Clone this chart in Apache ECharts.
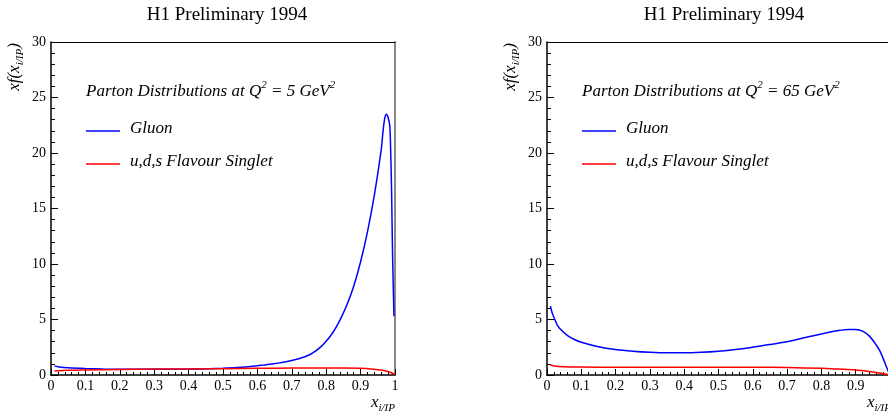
<!DOCTYPE html>
<html>
<head>
<meta charset="utf-8">
<script src="https://cdn.jsdelivr.net/npm/echarts@6/dist/echarts.min.js"></script>
<style>html,body{margin:0;padding:0;background:#fff}#c{width:888px;height:418px}</style>
</head>
<body>
<div id="c"></div>
<script>
// ---- data ----
var xTicks = [0, 0.1, 0.2, 0.3, 0.4, 0.5, 0.6, 0.7, 0.8, 0.9, 1];
var yTicks = [0, 5, 10, 15, 20, 25, 30];

var gluon5X = [0.01,0.02,0.05,0.1,0.15,0.2,0.3,0.4,0.46,0.5,0.54,0.58,0.6,0.62,0.64,0.66,0.68,0.7,0.72,0.74,0.76,0.78,0.8,0.82,0.84,0.86,0.88,0.9,0.92,0.94,0.96,0.965,0.97,0.975,0.98,0.985,0.988,0.99,0.993,0.997];
var gluon5Y = [0.82,0.75,0.65,0.58,0.54,0.52,0.51,0.53,0.57,0.61,0.67,0.77,0.84,0.91,0.99,1.07,1.17,1.3,1.46,1.67,1.97,2.42,3.05,3.85,4.95,6.3,8.0,10.2,12.9,16.2,20.3,21.9,23.1,23.5,23.2,22.4,19.5,16.7,10.7,5.3];

var quark5X = [0.01,0.05,0.1,0.2,0.3,0.4,0.5,0.6,0.7,0.8,0.85,0.9,0.93,0.95,0.97,0.99,1.0];
var quark5Y = [0.36,0.42,0.45,0.5,0.53,0.55,0.57,0.6,0.62,0.63,0.63,0.6,0.55,0.48,0.38,0.2,0.0];

var gluon65X = [0.01,0.015,0.02,0.03,0.04,0.06,0.08,0.1,0.15,0.2,0.25,0.3,0.35,0.4,0.45,0.5,0.55,0.6,0.65,0.7,0.75,0.8,0.85,0.88,0.9,0.92,0.94,0.96,0.97,0.98,0.99,1.0];
var gluon65Y = [6.2,5.6,5.2,4.5,4.1,3.55,3.2,2.95,2.55,2.3,2.15,2.05,2.0,2.0,2.05,2.15,2.3,2.5,2.75,3.0,3.35,3.7,4.0,4.1,4.1,3.95,3.5,2.7,2.2,1.5,0.7,0.0];

var quark65X = [0.01,0.02,0.05,0.1,0.2,0.3,0.4,0.5,0.6,0.7,0.8,0.85,0.9,0.95,0.98,1.0];
var quark65Y = [0.9,0.82,0.75,0.72,0.7,0.7,0.7,0.7,0.7,0.67,0.6,0.53,0.45,0.28,0.12,0.0];

var titleText = 'H1 Preliminary 1994';
var q2Values = ['5', '65'];
var seriesNames = ['Gluon', 'u,d,s Flavour Singlet'];

function zip(xs, ys) { return xs.map(function (x, i) { return [x, ys[i]]; }); }

var FONT = 'Liberation Serif';
var grids = [
  { left: 51, top: 42, right: 493, bottom: 43, outerBoundsMode: 'none', containLabel: false },
  { left: 547, top: 42, right: -2, bottom: 43, outerBoundsMode: 'none', containLabel: false }
];

var xAxes = [], yAxes = [], series = [], graphics = [];
grids.forEach(function (g, i) {
  xAxes.push({
    type: 'value', gridIndex: i, min: 0, max: 1, interval: 0.1,
    axisLine: { show: true, onZero: false, lineStyle: { color: '#000', width: 1.5 } },
    axisTick: { inside: true, length: 6, lineStyle: { color: '#000' } },
    minorTick: { show: true, splitNumber: 5, length: 3, lineStyle: { color: '#000' } },
    splitLine: { show: false },
    axisLabel: { fontFamily: FONT, fontSize: 14, color: '#000', margin: 4, hideOverlap: false,
      formatter: function (v) { return String(Math.round(v * 10) / 10); } }
  });
  xAxes.push({
    type: 'value', gridIndex: i, min: 0, max: 1, position: 'top',
    axisLine: { show: true, onZero: false, lineStyle: { color: '#000', width: 1.2 } },
    axisTick: { show: false }, axisLabel: { show: false }, splitLine: { show: false }
  });
  yAxes.push({
    type: 'value', gridIndex: i, min: 0, max: 30, interval: 5,
    axisLine: { show: true, onZero: false, lineStyle: { color: '#000', width: 1.5 } },
    axisTick: { inside: true, length: 7, lineStyle: { color: '#000' } },
    minorTick: { show: true, splitNumber: 5, length: 4, lineStyle: { color: '#000' } },
    splitLine: { show: false },
    axisLabel: { fontFamily: FONT, fontSize: 14, color: '#000', margin: 5 }
  });
  yAxes.push({
    type: 'value', gridIndex: i, min: 0, max: 30, position: 'right',
    axisLine: { show: true, onZero: false, lineStyle: { color: '#888', width: 2 } },
    axisTick: { show: false }, axisLabel: { show: false }, splitLine: { show: false }
  });
});

var sets = [[gluon5X, gluon5Y, quark5X, quark5Y], [gluon65X, gluon65Y, quark65X, quark65Y]];
sets.forEach(function (s, i) {
  series.push({ name: seriesNames[0], type: 'line', xAxisIndex: 2 * i, yAxisIndex: 2 * i,
    data: zip(s[0], s[1]), showSymbol: false, smooth: 0.3,
    lineStyle: { color: '#0000ff', width: 1.5 }, itemStyle: { color: '#0000ff' } });
  series.push({ name: seriesNames[1], type: 'line', xAxisIndex: 2 * i, yAxisIndex: 2 * i,
    data: zip(s[2], s[3]), showSymbol: false, smooth: 0.3,
    lineStyle: { color: '#ff0000', width: 1.5 }, itemStyle: { color: '#ff0000' } });
});

var rich = {
  t: { fontFamily: FONT, fontSize: 17, fontStyle: 'italic', color: '#000', lineHeight: 24, verticalAlign: 'middle' },
  sup: { fontFamily: FONT, fontSize: 11, fontStyle: 'italic', color: '#000', lineHeight: 11, verticalAlign: 'top' },
  sub: { fontFamily: FONT, fontSize: 11, fontStyle: 'italic', color: '#000', lineHeight: 11, verticalAlign: 'bottom' },
  ty: { fontFamily: FONT, fontSize: 17, fontStyle: 'italic', color: '#000', lineHeight: 22, verticalAlign: 'middle' }
};

var titles = [];
var plotLefts = [51, 547];
plotLefts.forEach(function (ox, i) {
  titles.push({ text: titleText, left: [222, 719][i], top: 1, textAlign: 'center',
    textStyle: { fontFamily: FONT, fontSize: 19, fontWeight: 'normal', color: '#000' } });
  graphics.push({ type: 'text', left: ox + 35, top: 80, silent: true,
    style: { text: '{t|Parton Distributions at Q}{sup|2}{t| = ' + q2Values[i] + ' GeV}{sup|2}', rich: rich } });
  graphics.push({ type: 'line', shape: { x1: ox + 35, y1: 131, x2: ox + 69, y2: 131 },
    style: { stroke: '#0000ff', lineWidth: 1.5 } });
  graphics.push({ type: 'text', left: ox + 79, top: 120,
    style: { text: '{t|' + seriesNames[0] + '}', rich: rich } });
  graphics.push({ type: 'line', shape: { x1: ox + 35, y1: 164, x2: ox + 69, y2: 164 },
    style: { stroke: '#ff0000', lineWidth: 1.5 } });
  graphics.push({ type: 'text', left: ox + 79, top: 153,
    style: { text: '{t|' + seriesNames[1] + '}', rich: rich } });
  // y axis name
  graphics.push({ type: 'text', x: ox - 36, y: 67, rotation: Math.PI / 2,
    style: { text: '{ty|xf(x}{sub|i/IP}{ty|)}', rich: rich, align: 'center', verticalAlign: 'middle' } });
  // x axis name
  graphics.push({ type: 'text', x: ox + 344, y: 403,
    style: { text: '{ty|x}{sub|i/IP}', rich: rich, align: 'right', verticalAlign: 'middle' } });
});

var chart = echarts.init(document.getElementById('c'), null, { renderer: 'canvas' });
chart.setOption({
  animation: false,
  backgroundColor: '#fff',
  title: titles,
  grid: grids,
  xAxis: xAxes,
  yAxis: yAxes,
  series: series,
  graphic: graphics
});
</script>
</body>
</html>
